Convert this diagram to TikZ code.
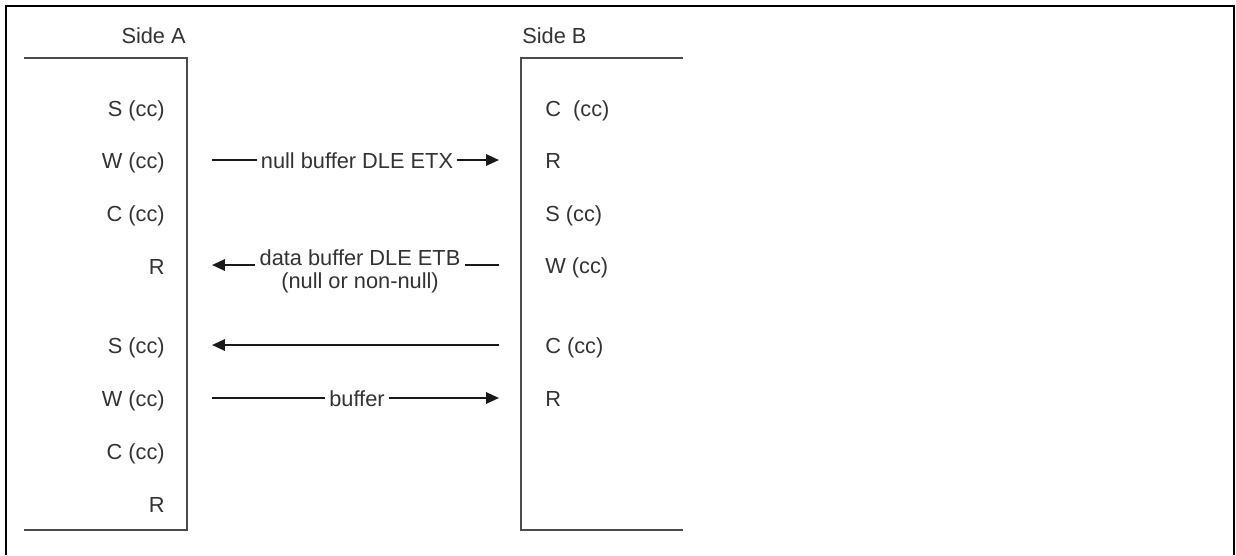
\documentclass[tikz,border=0pt]{standalone}
\usepackage{fontspec}
\setmainfont{Liberation Sans}
\usetikzlibrary{arrows.meta, positioning}

\tikzset{
  lbl/.style={font=\fontsize{15.5}{18}\selectfont, text=black!80, inner sep=0pt},
  lblA/.style={lbl, anchor=base east},
  lblB/.style={lbl, anchor=base west},
  msg/.style={line width=1.5pt, black!90, -{Triangle[length=3.2mm, width=2.8mm]}},
  msgtext/.style={lbl, anchor=base, fill=white, inner xsep=3pt, inner ysep=3pt},
  sidebar/.style={line width=1.5pt, black!70},
  frame/.style={line width=1.8pt, black}
}

\begin{document}
\begin{tikzpicture}[x=0.025cm, y=-0.025cm]
  \useasboundingbox (0,0) rectangle (1236,555);

  % Frame
  \draw[frame] (6,555) -- (6,6) -- (1234,6) -- (1234,555);

  % Side A
  \node[lblA] (sideA) at (186,43) {Side A};
  \draw[sidebar] (24,58) -- (187,58) -- (187,530) -- (24,530);
  \node[lblA] (a1) at (165,116) {S (cc)};
  \node[lblA] (a2) at (165,168) {W (cc)};
  \node[lblA] (a3) at (165,221) {C (cc)};
  \node[lblA] (a4) at (165,274) {R};
  \node[lblA] (a5) at (165,353) {S (cc)};
  \node[lblA] (a6) at (165,406) {W (cc)};
  \node[lblA] (a7) at (165,459) {C (cc)};
  \node[lblA] (a8) at (165,512) {R};

  % Side B
  \node[lblB] (sideB) at (522,43) {Side B};
  \draw[sidebar] (683,58) -- (521,58) -- (521,530) -- (683,530);
  \node[lblB] (b1) at (545,116) {C~ (cc)};
  \node[lblB] (b2) at (545,168) {R};
  \node[lblB] (b3) at (545,221) {S (cc)};
  \node[lblB] (b4) at (545,273) {W (cc)};
  \node[lblB] (b5) at (545,353) {C (cc)};
  \node[lblB] (b6) at (545,406) {R};

  % Arrow ends
  \coordinate (p1) at (212,160);
  \coordinate (q1) at (499,160);
  \coordinate (p2) at (212,265);
  \coordinate (q2) at (499,265);
  \coordinate (p3) at (212,345);
  \coordinate (q3) at (499,345);
  \coordinate (p4) at (212,398);
  \coordinate (q4) at (499,398);

  % Messages
  \draw[msg] (p1) -- (q1);
  \node[msgtext] (t1) at (357,168) {null buffer DLE ETX};

  \draw[msg] (q2) -- (p2);
  \node[msgtext] (t2) at (360,265) {data buffer DLE ETB};
  \node[lbl, anchor=base] (t2b) at (360,288) {(null or non-null)};

  \draw[msg] (q3) -- (p3);

  \draw[msg] (p4) -- (q4);
  \node[msgtext] (t4) at (357,406) {buffer};
\end{tikzpicture}
\end{document}
